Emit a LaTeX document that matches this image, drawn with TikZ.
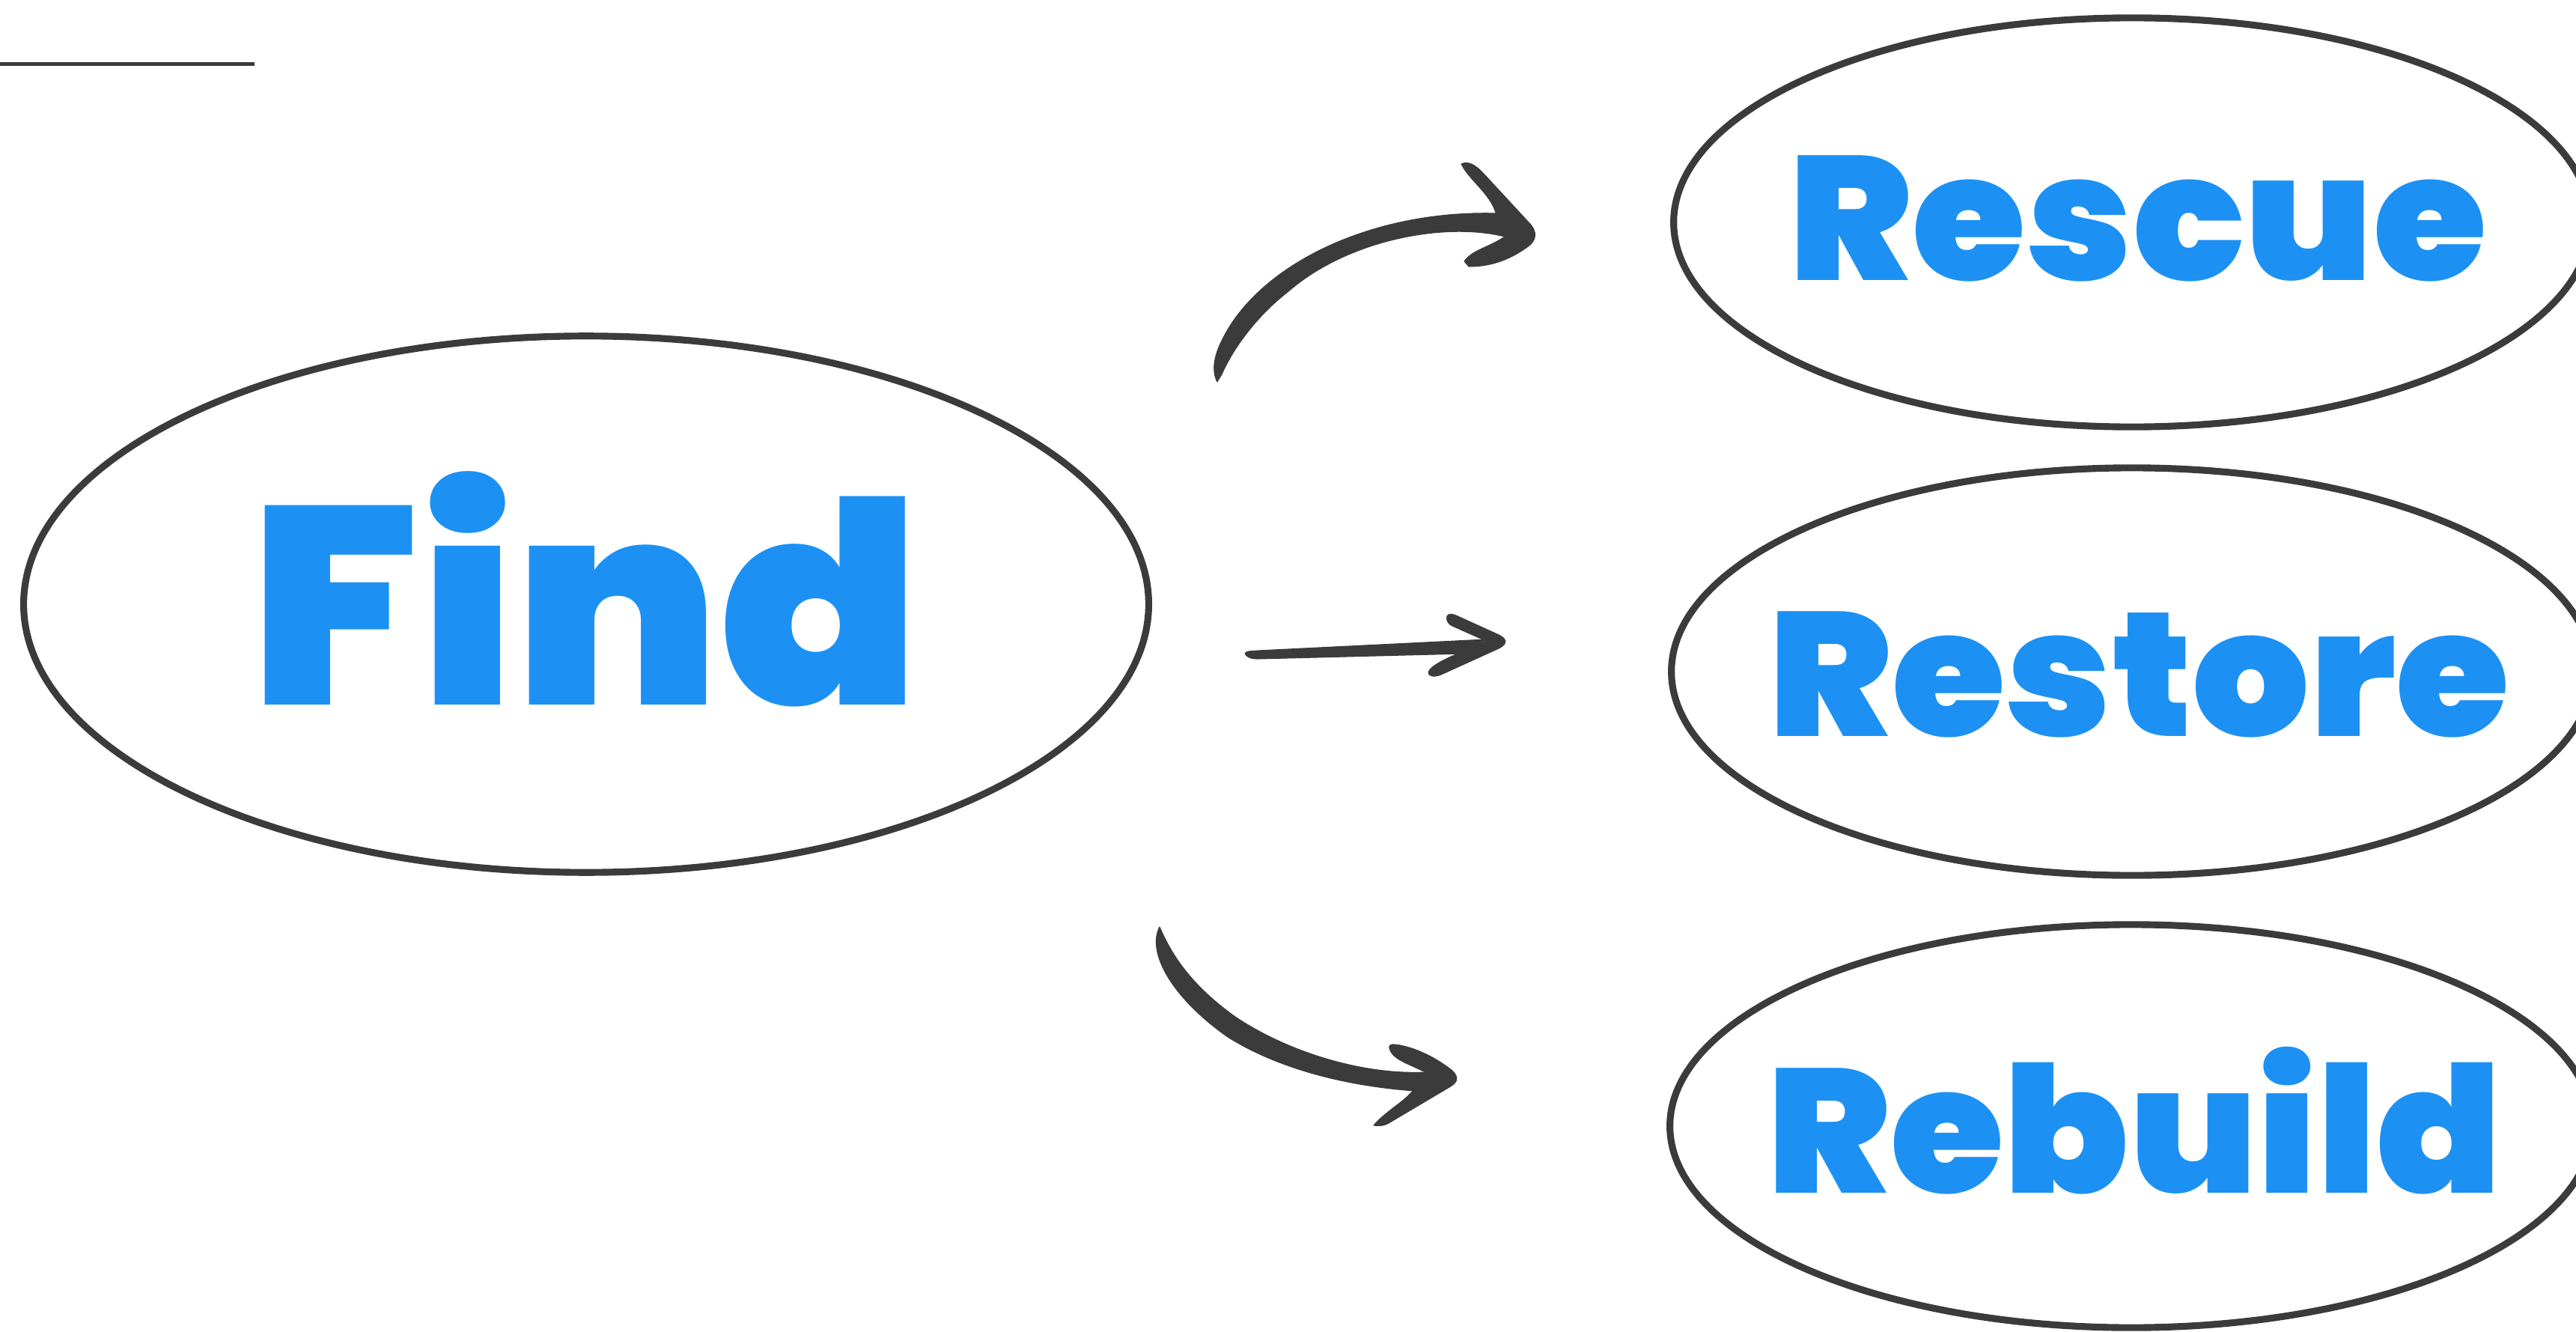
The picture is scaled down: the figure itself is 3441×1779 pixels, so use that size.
\documentclass[tikz,border=0pt]{standalone}
\usepackage{fontspec}
\usepackage{xcolor}
\usetikzlibrary{shapes, arrows.meta, positioning}
\setmainfont{Poppins}[BoldFont={Poppins Black}]

\definecolor{wordblue}{HTML}{1C91F3}
\definecolor{inkgray}{HTML}{3B3B3B}
\newcommand{\widen}[1]{\scalebox{1.045}[1]{#1}}

\begin{document}
\begin{tikzpicture}[x=0.01cm, y=-0.01cm,
		oval/.style={draw=inkgray, line width=2.6pt, ellipse, inner sep=0pt},
		bigword/.style={text=wordblue, anchor=base, inner sep=0pt, font=\fontsize{107}{107}\selectfont\bfseries},
		word/.style={text=wordblue, anchor=base, inner sep=0pt, font=\fontsize{67}{67}\selectfont\bfseries},
		brush/.style={fill=inkgray, draw=inkgray, line width=0.3pt, line join=round}]
				\useasboundingbox (0,0) rectangle (3441,1779);

				% rule top left
				\draw[inkgray, line width=0.05cm] (0,86) -- (340,86);

				% ovals
				\node[oval, minimum width=15.02cm, minimum height=7.16cm] (find) at (783,807) {};
				\node[oval, minimum width=12.24cm, minimum height=5.46cm] (rescue) at (2848,297) {};
				\node[oval, minimum width=12.3cm, minimum height=5.44cm] (restore) at (2848,897) {};
				\node[oval, minimum width=12.32cm, minimum height=5.38cm] (rebuild) at (2847,1504) {};

				% words
				\node[bigword] (findw) at (782,941) {\widen{Find}};
				\node[word] (rescuew) at (2856,375) {\widen{Rescue}};
				\node[word] (restorew) at (2857,983) {\widen{Restore}};
				\node[word] (rebuildw) at (2851,1593) {\widen{Rebuild}};

				% arrow to rescue
				\fill[brush] (1626,510) .. controls (1618,495) and (1622,475) .. (1632,455)
					.. controls (1680,355) and (1830,280) .. (2000,285)
					-- (2010,316) .. controls (1930,296) and (1800,320) .. (1720,390)
					.. controls (1675,425) and (1645,470) .. (1632,500)
					.. controls (1629,505) and (1627,508) .. (1626,510) -- cycle;
				\fill[brush] (1952,219) .. controls (1962,214) and (1972,222) .. (1980,230)
					-- (2042,297) .. controls (2055,310) and (2052,322) .. (2040,330)
					.. controls (2015,348) and (1990,356) .. (1962,356)
					-- (1956,349) .. controls (1966,334) and (1990,330) .. (2010,316)
					-- (1998,284) .. controls (1990,258) and (1962,240) .. (1952,219) -- cycle;

				% arrow to restore
				\fill[brush] (1663,873) .. controls (1665,869) and (1670,870) .. (1680,869)
					-- (1985,854) -- (1955,873) -- (1680,880)
					.. controls (1670,880) and (1665,877) .. (1663,873) -- cycle;
				\fill[brush] (1933,823) .. controls (1935,819) and (1940,820) .. (1945,822)
					-- (2000,847) .. controls (2014,853) and (2014,860) .. (2002,866)
					-- (1925,901) .. controls (1915,905) and (1908,903) .. (1908,898)
					.. controls (1910,890) and (1930,880) .. (1950,872)
					-- (1985,856) -- (1940,836) .. controls (1932,832) and (1932,826) .. (1933,823) -- cycle;

				% arrow to rebuild
				\fill[brush] (1549,1238) .. controls (1532,1270) and (1562,1330) .. (1640,1385)
					.. controls (1720,1435) and (1820,1452) .. (1890,1457)
					-- (1904,1432) .. controls (1820,1436) and (1720,1405) .. (1650,1358)
					.. controls (1590,1315) and (1565,1275) .. (1549,1238) -- cycle;
				\fill[brush] (1856,1400) .. controls (1855,1393) and (1862,1395) .. (1870,1396)
					.. controls (1900,1402) and (1925,1418) .. (1940,1430)
					.. controls (1950,1440) and (1946,1446) .. (1936,1452)
					-- (1855,1500) .. controls (1848,1504) and (1840,1504) .. (1835,1503)
					.. controls (1850,1485) and (1875,1472) .. (1887,1457)
					-- (1904,1432) .. controls (1880,1420) and (1860,1415) .. (1856,1400) -- cycle;
			\end{tikzpicture}
\end{document}
